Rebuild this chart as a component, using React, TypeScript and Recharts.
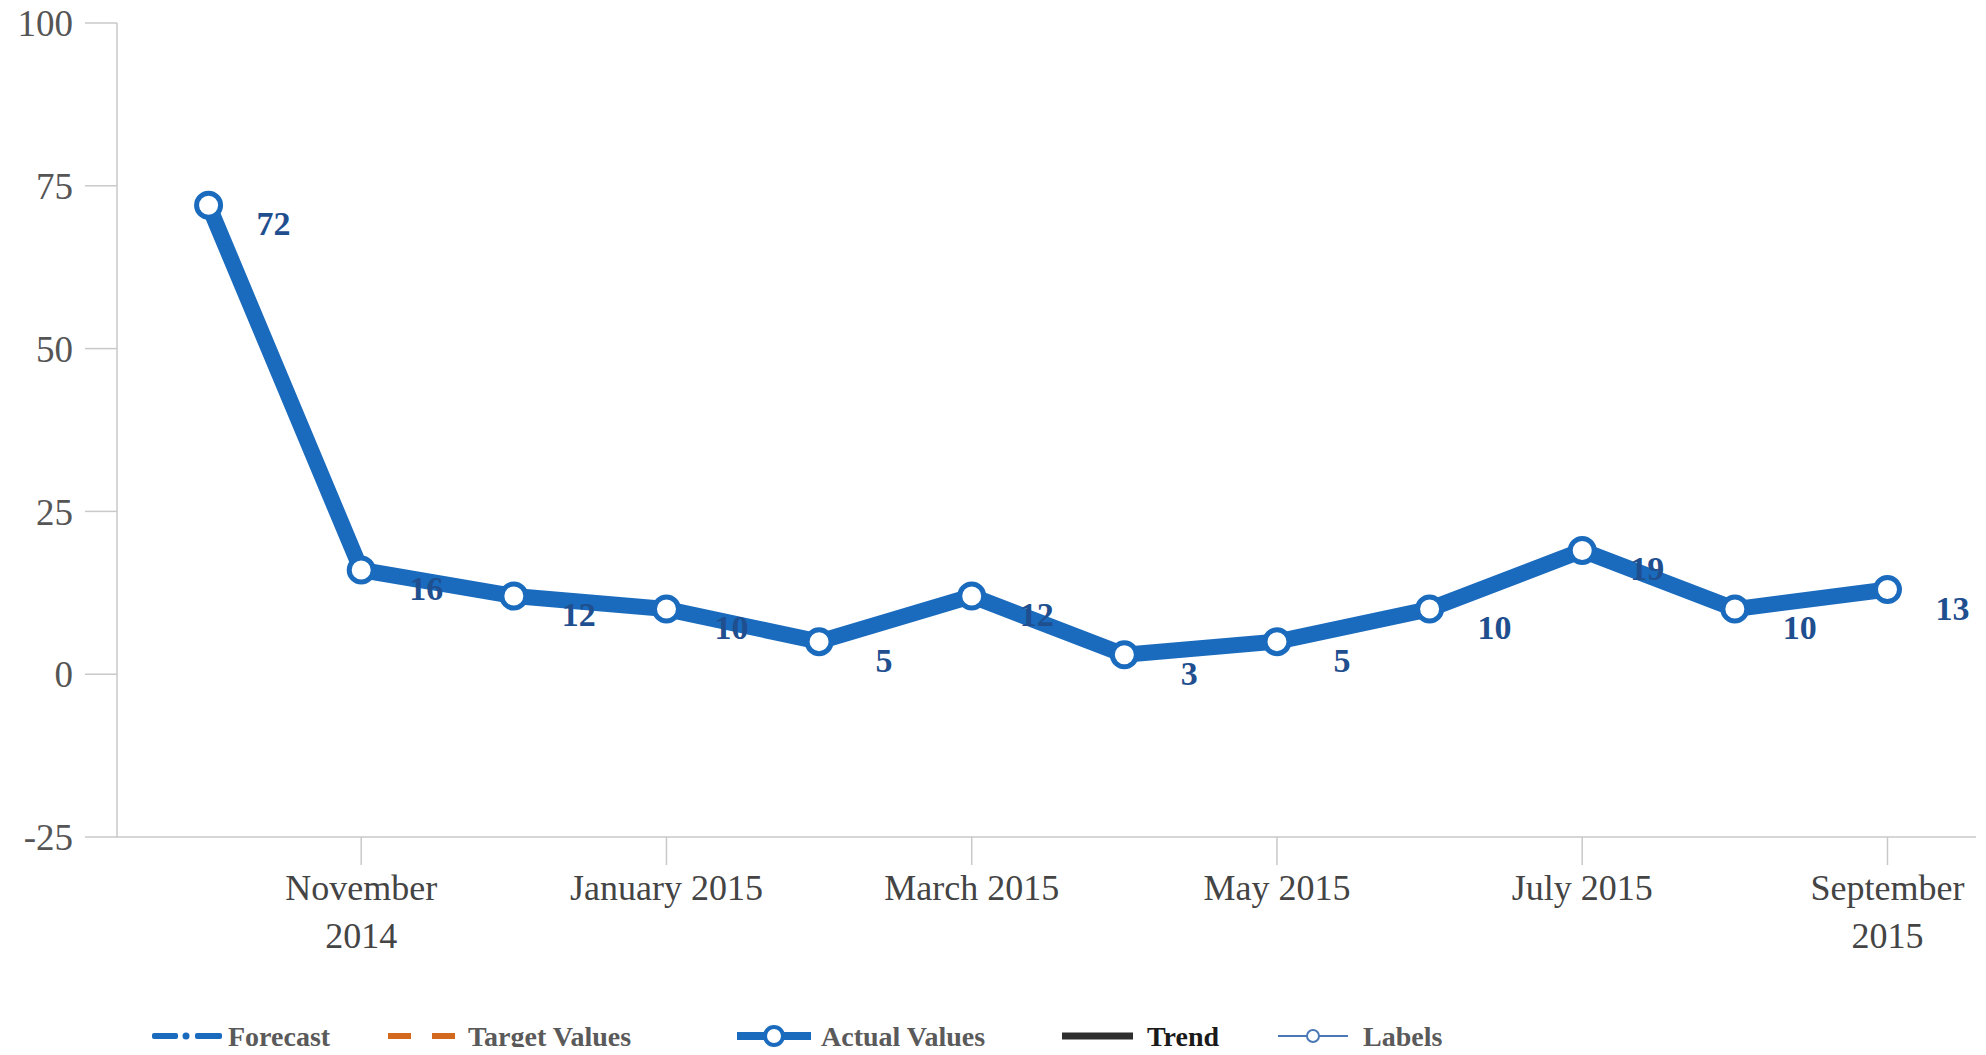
import { LineChart, Line, XAxis, YAxis, Legend, LabelList } from 'recharts';

const months = [
  'Oct 2014', 'Nov 2014', 'Dec 2014', 'Jan 2015', 'Feb 2015', 'Mar 2015',
  'Apr 2015', 'May 2015', 'Jun 2015', 'Jul 2015', 'Aug 2015', 'Sep 2015'
];
const actualValues = [72, 16, 12, 10, 5, 12, 3, 5, 10, 19, 10, 13];

// every other month gets a label on the axis
const tickIndexes = [1, 3, 5, 7, 9, 11];
const tickLabels = [
  ['November', '2014'],
  ['January 2015'],
  ['March 2015'],
  ['May 2015'],
  ['July 2015'],
  ['September', '2015']
];
const yTicks = [-25, 0, 25, 50, 75, 100];
const legendNames = ['Forecast', 'Target Values', 'Actual Values', 'Trend', 'Labels'];

const data = months.map((month, i) => ({ idx: i, month, actual: actualValues[i] }));

const BLUE = '#1a6bbd';
const LABEL_BLUE = '#1f4f8f';
const AXIS = '#c9c9c9';
const FONT = '"Liberation Serif", "Times New Roman", serif';

function MonthTick({ x, y, payload }: any) {
  const lines = tickLabels[tickIndexes.indexOf(payload.value)] || [];
  return (
    <text x={x} y={y} textAnchor="middle" fill="#444" fontSize={36} fontFamily={FONT}>
      {lines.map((line, k) => (
        <tspan key={k} x={x} dy={k === 0 ? 35 : 48}>{line}</tspan>
      ))}
    </text>
  );
}

function ValueLabel({ x, y, value }: any) {
  return (
    <text x={x + 65} y={y + 30} textAnchor="middle" fill={LABEL_BLUE}
      fontSize={34} fontWeight="bold" fontFamily={FONT}>
      {value}
    </text>
  );
}

function ChartLegend() {
  const text = { fontSize: 28, fontWeight: 'bold' as const, fontFamily: FONT };
  const cy = 42;
  return (
    <div style={{ position: 'relative', height: 0 }}>
      <svg width={1986} height={60} style={{ position: 'absolute', left: 0, top: 0, overflow: 'visible' }}>
        {/* Forecast */}
        <rect x={152} y={cy - 3} width={26} height={6} rx={2} fill={BLUE} />
        <circle cx={186} cy={cy} r={3.5} fill={BLUE} />
        <rect x={195} y={cy - 3} width={27} height={6} rx={2} fill={BLUE} />
        <text x={228} y={cy + 10} fill="#5a5a5a" {...text}>{legendNames[0]}</text>
        {/* Target Values */}
        <rect x={388} y={cy - 3} width={23} height={6} fill="#d2691e" />
        <rect x={432} y={cy - 3} width={23} height={6} fill="#d2691e" />
        <text x={468} y={cy + 10} fill="#5a5a5a" {...text}>{legendNames[1]}</text>
        {/* Actual Values */}
        <rect x={737} y={cy - 4} width={74} height={8} fill={BLUE} />
        <circle cx={774} cy={cy} r={9} fill="#fff" stroke={BLUE} strokeWidth={4} />
        <text x={821} y={cy + 10} fill="#5a5a5a" {...text}>{legendNames[2]}</text>
        {/* Trend */}
        <rect x={1062} y={cy - 3.5} width={71} height={7} fill="#2e2e2e" />
        <text x={1147} y={cy + 10} fill="#1a1a1a" {...text}>{legendNames[3]}</text>
        {/* Labels */}
        <line x1={1278} y1={cy} x2={1348} y2={cy} stroke="#4a78b5" strokeWidth={2} />
        <circle cx={1313} cy={cy} r={6} fill="#fff" stroke="#4a78b5" strokeWidth={2} />
        <text x={1363} y={cy + 10} fill="#5a5a5a" {...text}>{legendNames[4]}</text>
      </svg>
    </div>
  );
}

export default function App() {
  return (
    <div style={{ margin: -8, width: 1986, height: 1055, overflow: 'hidden', background: '#fff' }}>
      <LineChart
        width={1986}
        height={1055}
        data={data}
        margin={{ top: 23, right: 10, left: 0, bottom: 0 }}
      >
        <XAxis
          dataKey="idx"
          type="number"
          domain={[-0.6, 11.58]}
          ticks={tickIndexes}
          interval={0}
          height={218}
          tickSize={28}
          tickMargin={0}
          stroke={AXIS}
          strokeWidth={1.5}
          tick={<MonthTick />}
        />
        <YAxis
          type="number"
          domain={[-25, 100]}
          ticks={yTicks}
          width={117}
          tickSize={32}
          tickMargin={12}
          stroke={AXIS}
          strokeWidth={1.5}
          tick={{ fill: '#555', fontSize: 37, fontFamily: FONT }}
        />
        <Legend
          content={<ChartLegend />}
          wrapperStyle={{ position: 'absolute', left: 0, top: 994, width: 1986, height: 0 }}
        />
        {/* labels sit underneath the line, as in the original */}
        <Line
          dataKey="actual"
          stroke="none"
          dot={false}
          legendType="none"
          isAnimationActive={false}
        >
          <LabelList dataKey="actual" content={<ValueLabel />} />
        </Line>
        <Line
          dataKey="actual"
          name="Actual Values"
          stroke={BLUE}
          strokeWidth={16}
          strokeLinejoin="round"
          dot={{ r: 12, fill: '#fff', stroke: BLUE, strokeWidth: 5 }}
          activeDot={false}
          isAnimationActive={false}
        />
      </LineChart>
    </div>
  );
}
